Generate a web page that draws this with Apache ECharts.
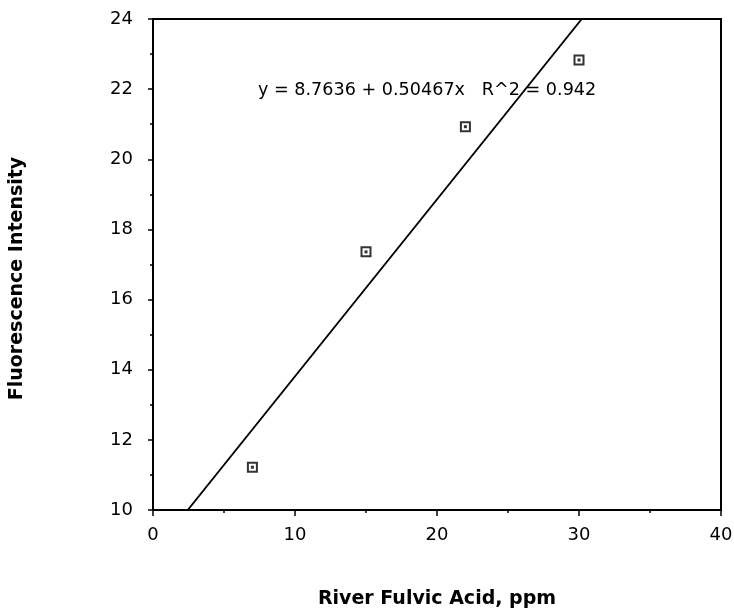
<!DOCTYPE html>
<html>
<head>
<meta charset="utf-8">
<script src="https://cdn.jsdelivr.net/npm/echarts@6/dist/echarts.min.js"></script>
<style>html,body{margin:0;padding:0;background:#fff}#c{width:734px;height:611px}</style>
</head>
<body>
<div id="c"></div>
<script>
// Data
const fulvicPpm = [7, 15, 22, 30];
const fluorescence = [11.22, 17.36, 20.93, 22.83];
const fitIntercept = 8.7636;
const fitSlope = 0.50467;
const fitR2 = 0.942;
const fitRangeX = [0, 40];
const xTicks = [0, 10, 20, 30, 40];
const yTicks = [10, 12, 14, 16, 18, 20, 22, 24];

const points = fulvicPpm.map((x, i) => [x, fluorescence[i]]);
const fitLine = fitRangeX.map(x => [x, fitIntercept + fitSlope * x]);
const eqText = 'y = ' + fitIntercept + ' + ' + fitSlope + 'x   R^2 = ' + fitR2;

const chart = echarts.init(document.getElementById('c'));
const axisFont = {color: '#000', fontFamily: 'DejaVu Sans', fontSize: 18};
const titleFont = {color: '#000', fontFamily: 'DejaVu Sans', fontWeight: 'bold', fontSize: 19};
chart.setOption({
  animation: false,
  backgroundColor: '#fff',
  grid: {left: 153, right: 13, top: 19, bottom: 101, show: true, borderColor: '#000', borderWidth: 2,
         backgroundColor: 'transparent', outerBoundsMode: 'none', containLabel: false},
  xAxis: {
    type: 'value', min: xTicks[0], max: xTicks[xTicks.length - 1], interval: 10,
    name: 'River Fulvic Acid, ppm', nameLocation: 'middle', nameGap: 80, nameTextStyle: titleFont,
    axisLine: {show: true, lineStyle: {color: '#000', width: 2}},
    axisTick: {show: true, length: 6, lineStyle: {color: '#000', width: 1.5}},
    minorTick: {show: true, splitNumber: 2, length: 3, lineStyle: {color: '#000', width: 1.5}},
    splitLine: {show: false},
    axisLabel: Object.assign({margin: 16}, axisFont)
  },
  yAxis: {
    type: 'value', min: yTicks[0], max: yTicks[yTicks.length - 1], interval: 2,
    name: 'Fluorescence Intensity', nameLocation: 'middle', nameGap: 126,
    nameTextStyle: Object.assign({padding: [0, 28, 0, 0]}, titleFont),
    axisLine: {show: true, lineStyle: {color: '#000', width: 2}},
    axisTick: {show: true, length: 5, lineStyle: {color: '#000', width: 1.5}},
    minorTick: {show: true, splitNumber: 2, length: 3, lineStyle: {color: '#000', width: 1.5}},
    splitLine: {show: false},
    axisLabel: Object.assign({margin: 20}, axisFont)
  },
  graphic: [{
    type: 'text', left: 258, top: 81,
    style: {text: eqText, fill: '#000', font: '17.6px "DejaVu Sans"'}
  }],
  series: [
    {type: 'line', data: fitLine, symbol: 'none', clip: true, lineStyle: {color: '#000', width: 1.8}, z: 2},
    {type: 'scatter', data: points, symbol: 'rect', symbolSize: 9, itemStyle: {color: '#fff', borderColor: '#000', borderWidth: 2}, z: 3},
    {type: 'scatter', data: points, symbol: 'rect', symbolSize: 3, itemStyle: {color: '#000'}, z: 4}
  ]
});
</script>
</body>
</html>
